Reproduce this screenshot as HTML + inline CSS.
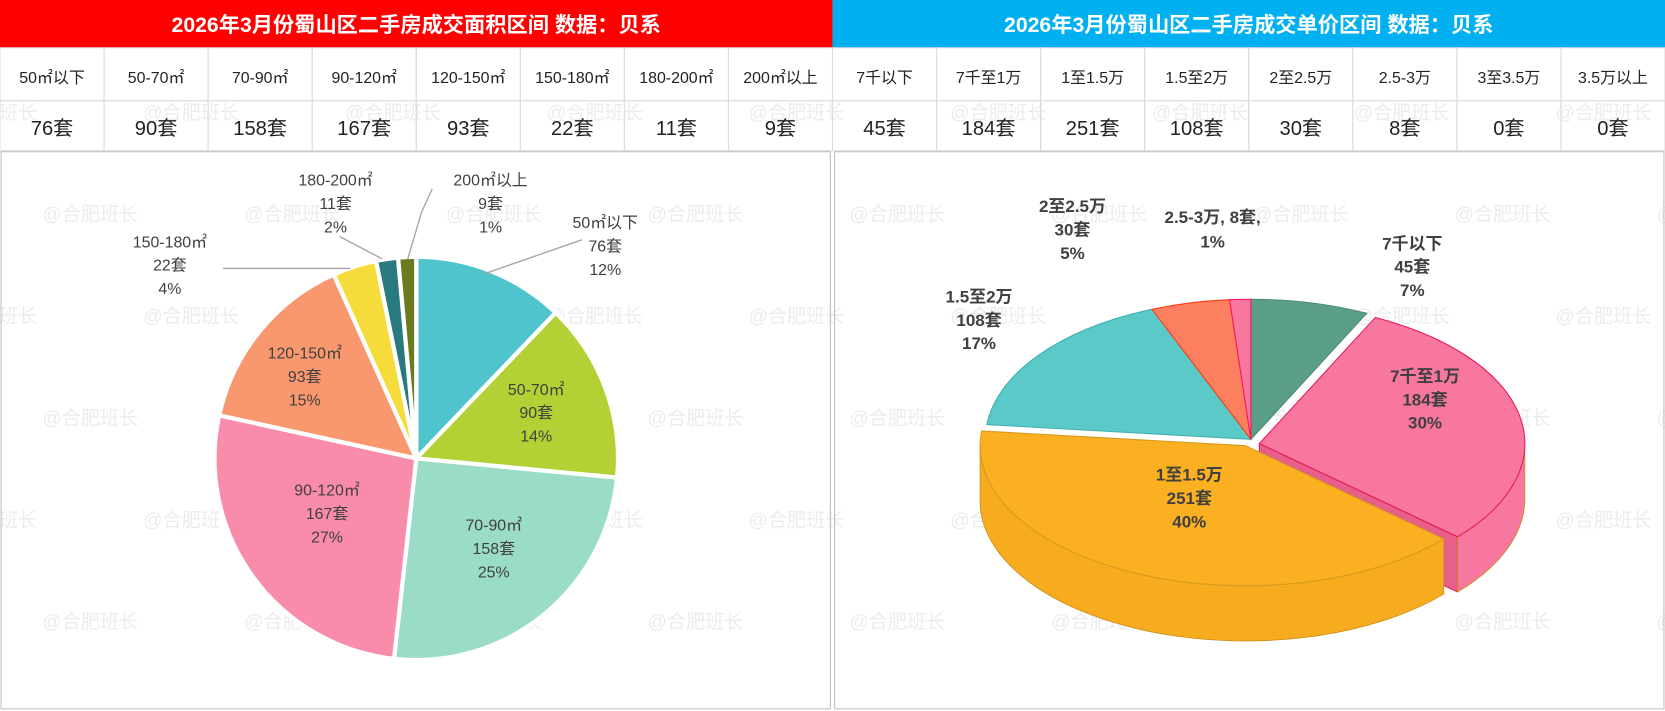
<!DOCTYPE html>
<html><head><meta charset="utf-8"><style>
html,body{margin:0;padding:0;background:#fff;width:1665px;height:711px;overflow:hidden}
svg{display:block;font-family:"Liberation Sans","Noto Sans CJK SC",sans-serif}
</style></head><body>
<svg id="s" width="1665" height="711" viewBox="0 0 1568 670" preserveAspectRatio="none">
<g id="wm"></g>
<rect x="0" y="0" width="784" height="45" fill="#ff0000"/>
<rect x="784" y="0" width="784" height="45" fill="#00b0f0"/>
<text x="392" y="30" fill="#fff" font-size="20" font-weight="bold" text-anchor="middle">2026年3月份蜀山区二手房成交面积区间 数据：贝系</text>
<text x="1176" y="30" fill="#fff" font-size="20" font-weight="bold" text-anchor="middle">2026年3月份蜀山区二手房成交单价区间 数据：贝系</text>
<g id="tbl"></g>
<rect x="1" y="143" width="781" height="525" fill="none" stroke="#bfbfbf"/>
<rect x="786" y="143" width="781" height="525" fill="none" stroke="#bfbfbf"/>
<g id="pie1"></g>
<g id="pie2"></g>
</svg>
<script>
const areaCats=["50㎡以下","50-70㎡","70-90㎡","90-120㎡","120-150㎡","150-180㎡","180-200㎡","200㎡以上"];
const areaVals=[76,90,158,167,93,22,11,9];
const areaCols=["#4fc4cc","#b3d134","#9adcc8","#f98bab","#f9976f","#f5dc3b","#287a80","#6b7a1e"];
const priceCats=["7千以下","7千至1万","1至1.5万","1.5至2万","2至2.5万","2.5-3万","3至3.5万","3.5万以上"];
const priceVals=[45,184,251,108,30,8,0,0];
const priceCols=["#5a9e86","#f7779f","#fbb022","#5bc9c8","#fc8060","#f7779f","#999","#999"];
const NS="http://www.w3.org/2000/svg";
function mk(tag,attrs,parent){const e=document.createElementNS(NS,tag);for(const k in attrs)e.setAttribute(k,attrs[k]);parent.appendChild(e);return e;}
function txt(x,y,s,size,col,weight,parent,name){const t=mk("text",{x:x,y:y,"font-size":size,fill:col,"text-anchor":"middle","font-weight":weight},parent);t.textContent=s;


return t;}
function pcts(vals){const tot=vals.reduce((a,b)=>a+b,0);const raw=vals.map(v=>v/tot*100);const fl=raw.map(Math.floor);let rem=100-fl.reduce((a,b)=>a+b,0);
const idx=raw.map((r,i)=>[r-Math.floor(r),i]).sort((a,b)=>b[0]-a[0]);for(let k=0;k<rem;k++)fl[idx[k][1]]++;return fl;}
// watermarks
const wm=document.getElementById("wm");
for(let r=0;r<6;r++)for(let c=0;c<9;c++){txt(-10+c*190+(r%2)*95,112+r*96,"@合肥班长",18,"#ececec","normal",wm,"watermark");}
// table
const tbl=document.getElementById("tbl");
function row(cats,vals,x0){for(let i=0;i<8;i++){const x=x0+i*98;
const c=mk("rect",{x:x,y:45,width:98,height:50,fill:"none",stroke:"#dcdcdc"},tbl);


const c2=mk("rect",{x:x,y:95,width:98,height:47,fill:"none",stroke:"#dcdcdc"},tbl);


txt(x+49,78,cats[i],15,"#222","normal",tbl,"range-label");
txt(x+49,127,vals[i]+"套",19,"#222","normal",tbl,"count-value");}}
row(areaCats,areaVals,0);row(priceCats,priceVals,784);
// pie 1
const p1=document.getElementById("pie1");
const tot1=areaVals.reduce((a,b)=>a+b,0);
const pc1=pcts(areaVals);
const cx=392,cy=432,R=190;
let acc=0;
function pt(cx,cy,rx,ry,a){return [cx+rx*Math.sin(a),cy-ry*Math.cos(a)];}
areaVals.forEach((v,i)=>{const a1=acc/tot1*2*Math.PI;acc+=v;const a2=acc/tot1*2*Math.PI;
const s=pt(cx,cy,R,R,a1),e=pt(cx,cy,R,R,a2);const lg=(a2-a1)>Math.PI?1:0;
const p=mk("path",{d:`M${cx},${cy}L${s[0]},${s[1]}A${R},${R} 0 ${lg} 1 ${e[0]},${e[1]}Z`,fill:areaCols[i],stroke:"#fff","stroke-width":4},p1);

});
const lab1=[[570,215],[505,372],[465,500],[308,467],[287,338],[160,233],[316,175],[462,175]];
areaVals.forEach((v,i)=>{const [x,y]=lab1[i];
txt(x,y,areaCats[i],15,"#404040","normal",p1,"slice-label");
txt(x,y+22,v+"套",15,"#404040","normal",p1,"slice-label");
txt(x,y+44,pc1[i]+"%",15,"#404040","normal",p1,"slice-label");});
[["M548,226 L456,258"],["M210,253 L330,253"],["M320,223 L360,244"],["M407,178 L397,200 L384,244"]].forEach(d=>{
const l=mk("path",{d:d[0],fill:"none",stroke:"#a6a6a6","stroke-width":1.3},p1);

});
// pie 2 (3D)
const p2=document.getElementById("pie2");
const tot2=priceVals.reduce((a,b)=>a+b,0);
const pc2=pcts(priceVals);
const c2x=1178,c2y=414,RX=250,RY=132,D=52;
const offs=[[0,0],[8,4],[-5,6],[0,0],[0,0],[0,0],[0,0],[0,0]];
const ang=[];acc=0;
priceVals.forEach(v=>{const a1=acc/tot2*2*Math.PI;acc+=v;ang.push([a1,acc/tot2*2*Math.PI]);});
{const i=1,[ox,oy]=offs[i],a=ang[i][1];const e=pt(c2x+ox,c2y+oy,RX,RY,a);
const f=mk("path",{d:`M${c2x+ox},${c2y+oy}L${e[0]},${e[1]}L${e[0]},${e[1]+D}L${c2x+ox},${c2y+oy+D}Z`,fill:"#e8608a",stroke:"#e8185a","stroke-width":1},p2);

}
priceVals.forEach((v,i)=>{if(!v)return;let [a1,a2]=ang[i];const lo=Math.max(a1,Math.PI/2),hi=Math.min(a2,1.5*Math.PI);if(hi<=lo)return;
const [ox,oy]=offs[i];const X=c2x+ox,Y=c2y+oy;
const s=pt(X,Y,RX,RY,lo),e=pt(X,Y,RX,RY,hi);
const w=mk("path",{d:`M${s[0]},${s[1]}A${RX},${RY} 0 0 1 ${e[0]},${e[1]}L${e[0]},${e[1]+D}A${RX},${RY} 0 0 0 ${s[0]},${s[1]+D}Z`,fill:i===2?"#f7ac1f":priceCols[i],stroke:"#c8901a","stroke-width":0.8},p2);

});
const strokes=["#4f8c76","#e8185a","#d49a1c","#3fb0b0","#ff3a10","#ff1060"];
priceVals.forEach((v,i)=>{if(!v)return;const [a1,a2]=ang[i];const [ox,oy]=offs[i];const X=c2x+ox,Y=c2y+oy;
const s=pt(X,Y,RX,RY,a1),e=pt(X,Y,RX,RY,a2);const lg=(a2-a1)>Math.PI?1:0;
const p=mk("path",{d:`M${X},${Y}L${s[0]},${s[1]}A${RX},${RY} 0 ${lg} 1 ${e[0]},${e[1]}Z`,fill:priceCols[i],stroke:strokes[i]||"#888","stroke-width":1},p2);

});
const lab2=[[1330,235,3],[1342,360,3],[1120,453,3],[922,285,3],[1010,200,3],[1142,210,2]];
priceVals.forEach((v,i)=>{if(!v)return;const [x,y,n]=lab2[i];const pc=pc2[i]+"%";
if(n===3){txt(x,y,priceCats[i],16,"#404040","bold",p2,"slice-label");txt(x,y+22,v+"套",16,"#404040","bold",p2,"slice-label");txt(x,y+44,pc,16,"#404040","bold",p2,"slice-label");}
else{txt(x,y,priceCats[i]+", "+v+"套,",16,"#404040","bold",p2,"slice-label");txt(x,y+23,pc,16,"#404040","bold",p2,"slice-label");}});
</script>
</body></html>
